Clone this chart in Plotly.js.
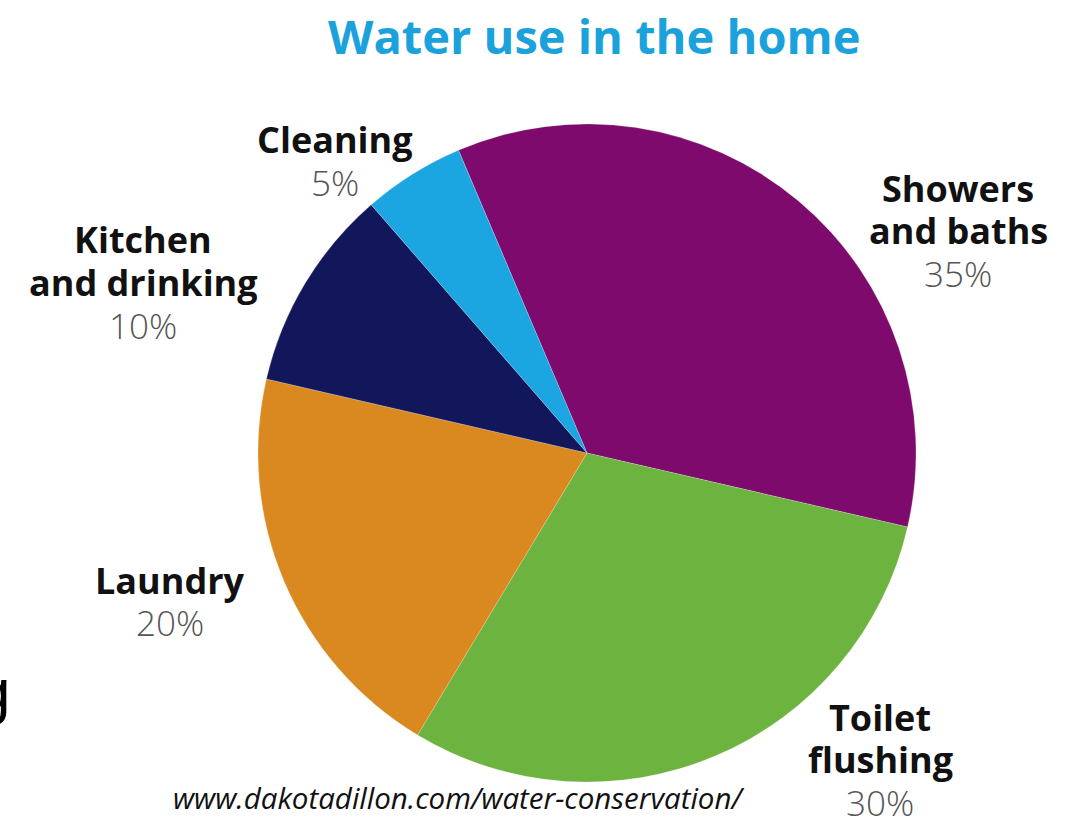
<!DOCTYPE html>
<html>
<head>
<meta charset="utf-8">
<script src="https://cdn.plot.ly/plotly-3.0.1.min.js"></script>
<style>html,body{margin:0;padding:0;background:#fff;}#chart{width:1079px;height:828px;}</style>
</head>
<body>
<div id="chart"></div>
<script>
const categories = ["Showers<br>and baths", "Toilet<br>flushing", "Laundry", "Kitchen<br>and drinking", "Cleaning"];
const values = [35, 30, 20, 10, 5];
const colors = ["#7d0a6c", "#6cb33f", "#d9891f", "#12175c", "#1ba6e2"];
const titleText = "Water use in the home";
const sourceText = "www.dakotadillon.com/water-conservation/";

// label anchor positions (pixels): [x center, y center of first line]
const labelPos = [[958, 188], [880, 717], [170, 580], [143, 240], [335, 140]];
const lineGap = 42.5;

const W = 1079, H = 828;
const annotations = [];
categories.forEach((c, i) => {
  const lines = c.split("<br>");
  lines.forEach((ln, j) => {
    annotations.push({
      text: "<b>" + ln + "</b>",
      x: labelPos[i][0] / W, y: 1 - (labelPos[i][1] + j * lineGap) / H,
      xref: "paper", yref: "paper", xanchor: "center", yanchor: "middle",
      showarrow: false, font: {family: "Open Sans", size: 36, color: "#111"}
    });
  });
  annotations.push({
    text: values[i] + "%",
    x: labelPos[i][0] / W, y: 1 - (labelPos[i][1] + lines.length * lineGap) / H,
    xref: "paper", yref: "paper", xanchor: "center", yanchor: "middle",
    showarrow: false, font: {family: "Open Sans", size: 35, color: "#555", weight: 300}
  });
});
annotations.push({
  text: "<b>" + titleText + "</b>", x: 594 / W, y: 1 - 36 / H, xref: "paper", yref: "paper",
  xanchor: "center", yanchor: "middle", showarrow: false,
  font: {family: "Open Sans", size: 47, color: "#1ba2dc"}
});
annotations.push({
  text: "<i>" + sourceText + "</i>", x: 458 / W, y: 1 - 797 / H, xref: "paper", yref: "paper",
  xanchor: "center", yanchor: "middle", showarrow: false,
  font: {family: "Open Sans", size: 29.5, color: "#111"}
});
annotations.push({
  text: "g", x: 12 / W, y: 1 - 690 / H, xref: "paper", yref: "paper",
  xanchor: "right", yanchor: "middle", showarrow: false,
  font: {family: "Liberation Sans", size: 62, color: "#000"}
});

const data = [{
  type: "pie",
  labels: categories,
  values: values,
  marker: {colors: colors, line: {color: "rgba(255,255,255,0.4)", width: 0.5}},
  sort: false,
  direction: "clockwise",
  rotation: -23,
  textinfo: "none",
  hoverinfo: "none",
  showlegend: false,
  domain: {x: [258 / W, 916 / W], y: [1 - 782 / H, 1 - 124 / H]}
}];

const layout = {
  width: W, height: H,
  margin: {l: 0, r: 0, t: 0, b: 0},
  paper_bgcolor: "#fff",
  showlegend: false,
  annotations: annotations
};

Plotly.newPlot("chart", data, layout, {displayModeBar: false, staticPlot: true});
</script>
</body>
</html>
